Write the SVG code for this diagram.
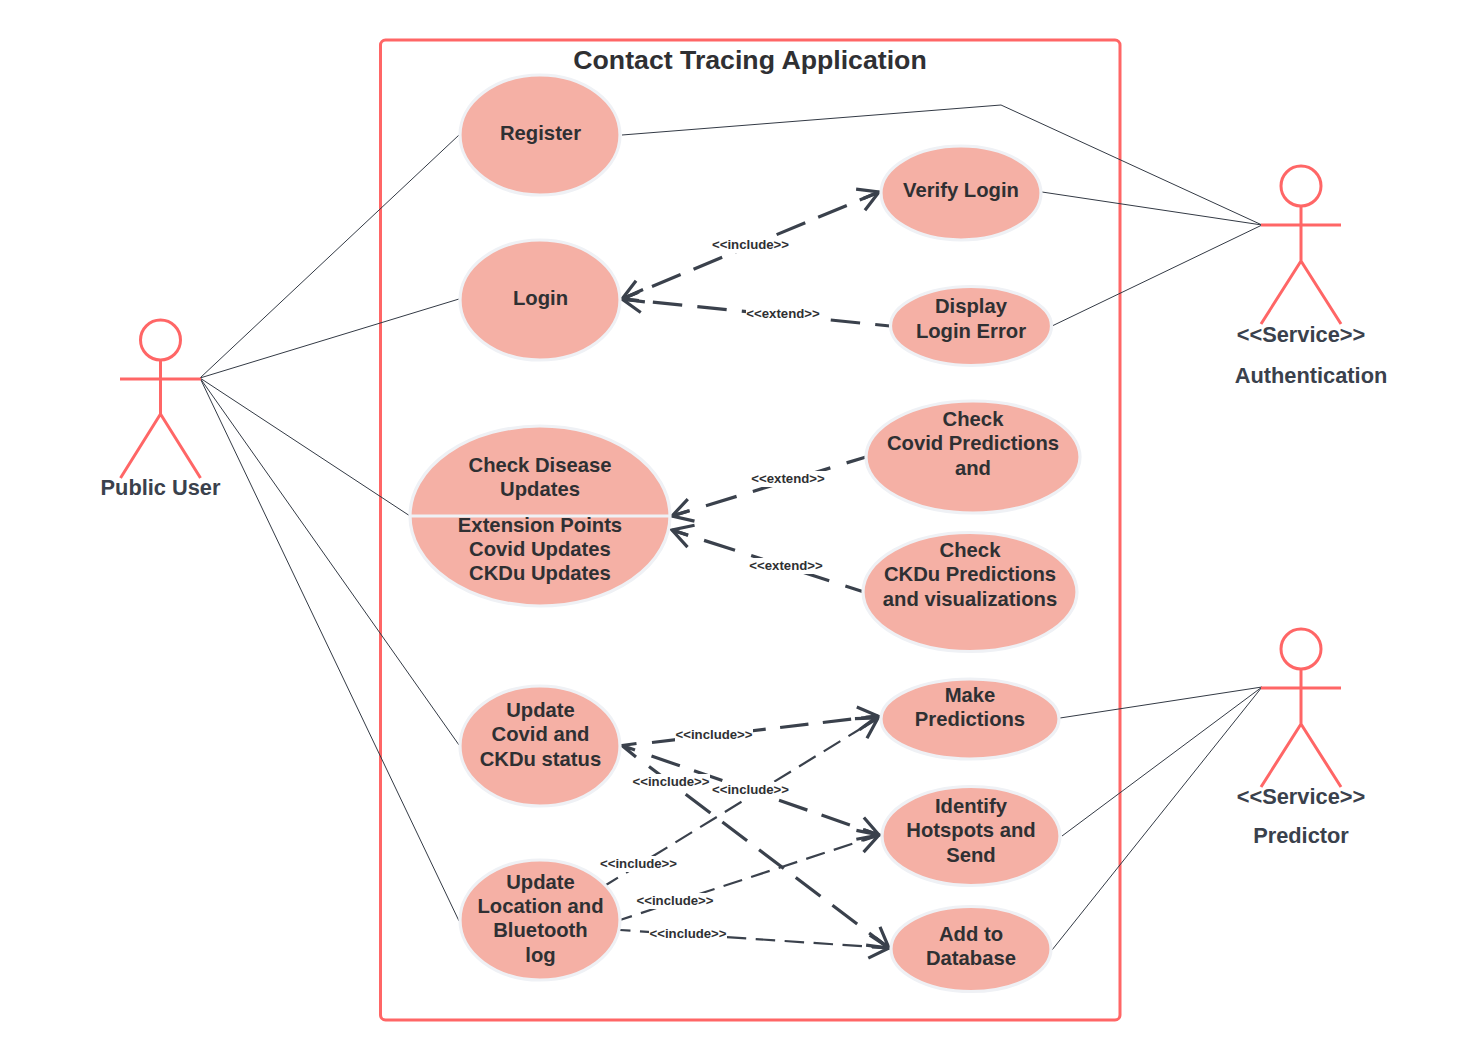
<svg xmlns="http://www.w3.org/2000/svg" width="1461" height="1060" viewBox="0 0 1461 1060">
<style>
text{font-family:"Liberation Sans",Arial,sans-serif;font-weight:700;fill:#2f3033;text-anchor:middle}
.t{font-size:20.250px}
.a{font-size:21.800px;fill:#3a414c}
.lb{font-size:13.200px}
.uc{fill:#f5b0a5;stroke:#eff1f5;stroke-width:3.200}
.act{fill:none;stroke:#ff6666;stroke-width:3}
.assoc{fill:none;stroke:#333a45;stroke-width:1}
.thick{fill:none;stroke:#3a414c;stroke-width:3.200;stroke-dasharray:30 15;stroke-dashoffset:13}
.thin{fill:none;stroke:#3a414c;stroke-width:2.200;stroke-dasharray:19.500 9.500}
.m{fill:#fff}
</style>
<defs>
<marker id="h" markerUnits="userSpaceOnUse" markerWidth="30" markerHeight="30" refX="24" refY="15" orient="auto-start-reverse" overflow="visible">
<path d="M4,3.500 L24,15 L4,26.500 M7,15 L24,15" fill="none" stroke="#3a414c" stroke-width="3.200"/>
</marker>
</defs>
<rect width="1461" height="1060" fill="#fff"/>
<g id="boundary">
<rect x="380.500" y="40" width="739.500" height="980" rx="5" fill="none" stroke="#ff6666" stroke-width="3"/>
<text x="750" y="69" style="font-size:26.700px">Contact Tracing Application</text>
</g>
<g id="connectors">
<path class="assoc" d="M200,378L459,135M200,378L459,299M200,378L410,516M200,378L459,745M200,378L459,921"/>
<path class="assoc" d="M622,135L1001,105L1262,225M1042,192L1262,225M1052,326L1262,225"/>
<path class="assoc" d="M1060,718L1262,687M1062,836L1262,687M1052,950L1262,687"/>
<path class="thick" d="M622,299L879,192" marker-start="url(#h)" marker-end="url(#h)" style="stroke-dasharray:31 14;stroke-dashoffset:12.500"/>
<path class="thick" d="M622,299L890,326" marker-start="url(#h)" style="stroke-dasharray:29.500 15.200;stroke-dashoffset:13.700"/>
<path class="thick" d="M672,516L866,457" marker-start="url(#h)" style="stroke-dasharray:32 17;stroke-dashoffset:13.500"/>
<path class="thick" d="M672,530L864,592" marker-start="url(#h)" style="stroke-dasharray:32.500 17;stroke-dashoffset:15.800"/>
<path d="M636.500,743.500L622,745.500L636,757M622,745.500L635,750" fill="none" stroke="#3a414c" stroke-width="3.200"/>
<path class="thick" d="M652,742.500L878,716" marker-end="url(#h)" style="stroke-dasharray:28.500 14.500;stroke-dashoffset:0"/>
<path class="thick" d="M651.500,756L879,835" marker-end="url(#h)" style="stroke-dashoffset:0"/>
<path class="thick" d="M649,766.500L889,948" marker-end="url(#h)" style="stroke-dasharray:31 15;stroke-dashoffset:0"/>
<path class="thin" d="M606,885L878,718" marker-end="url(#h)" style="stroke-dashoffset:5.500"/>
<path class="thin" d="M620,920L879,835" marker-end="url(#h)" style="stroke-dashoffset:7"/>
<path class="thin" d="M620,930L889,948" marker-end="url(#h)" style="stroke-dashoffset:9"/>
<g id="connector-labels">
<rect class="m" x="712" y="237" width="78" height="16"/><text class="lb" x="750.500" y="249">&lt;&lt;include&gt;&gt;</text>
<rect class="m" x="746" y="306" width="75" height="16"/><text class="lb" x="783" y="318">&lt;&lt;extend&gt;&gt;</text>
<rect class="m" x="751" y="471" width="75" height="16"/><text class="lb" x="788" y="483">&lt;&lt;extend&gt;&gt;</text>
<rect class="m" x="749" y="558" width="75" height="16"/><text class="lb" x="786" y="570">&lt;&lt;extend&gt;&gt;</text>
<rect class="m" x="675" y="727" width="78" height="16"/><text class="lb" x="714" y="739">&lt;&lt;include&gt;&gt;</text>
<rect class="m" x="632" y="774" width="78" height="16"/><text class="lb" x="671" y="786">&lt;&lt;include&gt;&gt;</text>
<rect class="m" x="712" y="782" width="78" height="16"/><text class="lb" x="750.500" y="794">&lt;&lt;include&gt;&gt;</text>
<rect class="m" x="600" y="856" width="78" height="16"/><text class="lb" x="638.500" y="868">&lt;&lt;include&gt;&gt;</text>
<rect class="m" x="636" y="893" width="78" height="16"/><text class="lb" x="675" y="905">&lt;&lt;include&gt;&gt;</text>
<rect class="m" x="649" y="926" width="78" height="16"/><text class="lb" x="688" y="938">&lt;&lt;include&gt;&gt;</text>
</g>
</g>
<g id="register"><ellipse class="uc" cx="540" cy="135" rx="80" ry="60"/><text class="t" x="540.500" y="140">Register</text></g>
<g id="login"><ellipse class="uc" cx="540" cy="300" rx="80" ry="60"/><text class="t" x="540.500" y="305">Login</text></g>
<g id="check-disease"><ellipse class="uc" cx="540" cy="516" rx="130" ry="90"/><path d="M410,516H670" stroke="#eff1f5" stroke-width="3.200"/>
<text class="t" x="540" y="472">Check Disease</text><text class="t" x="540" y="496">Updates</text><text class="t" x="540" y="532">Extension Points</text><text class="t" x="540" y="556">Covid Updates</text><text class="t" x="540" y="580">CKDu Updates</text></g>
<g id="update-covid"><ellipse class="uc" cx="540" cy="746" rx="80" ry="60"/><text class="t" x="540.500" y="717">Update</text><text class="t" x="540.500" y="741">Covid and</text><text class="t" x="540.500" y="766">CKDu status</text></g>
<g id="update-location"><ellipse class="uc" cx="540" cy="920" rx="80" ry="60"/><text class="t" x="540.500" y="889">Update</text><text class="t" x="540.500" y="913">Location and</text><text class="t" x="540.500" y="937">Bluetooth</text><text class="t" x="540.500" y="962">log</text></g>
<g id="verify-login"><ellipse class="uc" cx="961" cy="193" rx="80" ry="47"/><text class="t" x="961" y="197">Verify Login</text></g>
<g id="display-login-error"><ellipse class="uc" cx="971" cy="326" rx="80.500" ry="39.500"/><text class="t" x="971" y="313">Display</text><text class="t" x="971" y="338">Login Error</text></g>
<g id="check-covid"><ellipse class="uc" cx="973" cy="457" rx="107" ry="56"/><text class="t" x="973" y="426">Check</text><text class="t" x="973" y="450">Covid Predictions</text><text class="t" x="973" y="475">and</text></g>
<g id="check-ckdu"><ellipse class="uc" cx="970" cy="592" rx="107" ry="59.500"/><text class="t" x="970" y="557">Check</text><text class="t" x="970" y="581">CKDu Predictions</text><text class="t" x="970" y="606">and visualizations</text></g>
<g id="make-predictions"><ellipse class="uc" cx="970" cy="719" rx="89" ry="40"/><text class="t" x="970" y="702">Make</text><text class="t" x="970" y="726">Predictions</text></g>
<g id="identify-hotspots"><ellipse class="uc" cx="971" cy="836" rx="89" ry="49.500"/><text class="t" x="971" y="813">Identify</text><text class="t" x="971" y="837">Hotspots and</text><text class="t" x="971" y="862">Send</text></g>
<g id="add-database"><ellipse class="uc" cx="971" cy="949" rx="80" ry="42.500"/><text class="t" x="971" y="941">Add to</text><text class="t" x="971" y="965">Database</text></g>
<g id="public-user"><circle class="act" cx="160.500" cy="340" r="20"/><path class="act" d="M160.500,360V414M120,379H201M120.500,478L160.500,414L200.500,478"/><text class="a" x="160.500" y="495">Public User</text></g>
<g id="authentication"><circle class="act" cx="1301" cy="186" r="20"/><path class="act" d="M1301,206V261M1261,225H1341M1261,324L1301,261L1341,324"/><text class="a" x="1301" y="342">&lt;&lt;Service&gt;&gt;</text><text class="a" x="1311" y="383">Authentication</text></g>
<g id="predictor"><circle class="act" cx="1301" cy="649" r="20"/><path class="act" d="M1301,669V724M1261,688H1341M1261,787L1301,724L1341,787"/><text class="a" x="1301" y="804">&lt;&lt;Service&gt;&gt;</text><text class="a" x="1301" y="843">Predictor</text></g>
</svg>
